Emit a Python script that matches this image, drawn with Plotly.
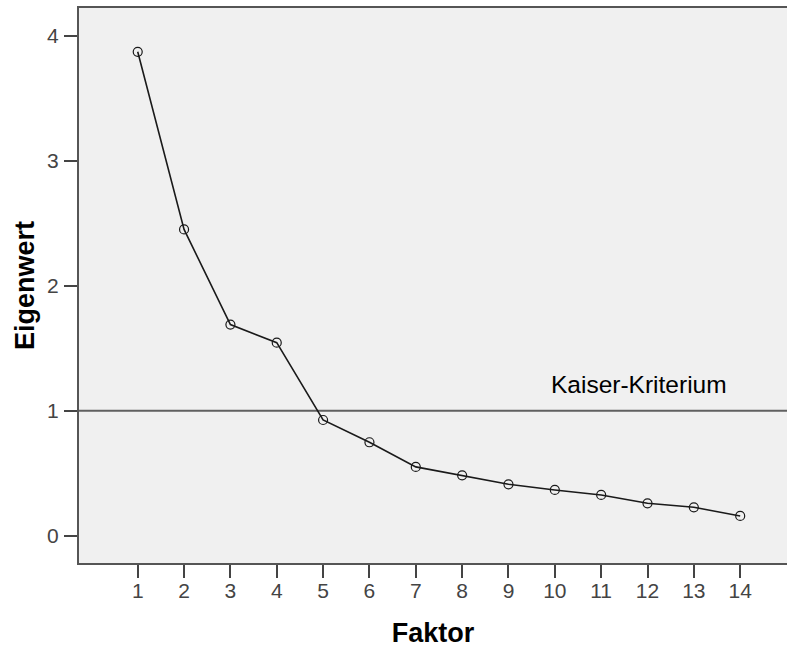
import plotly.graph_objects as go

faktor = list(range(1, 15))
eigenwert = [3.87, 2.45, 1.69, 1.545, 0.927, 0.749, 0.552, 0.485, 0.413, 0.368, 0.328, 0.261, 0.229, 0.16]
kaiser_value = 1.0
kaiser_label = "Kaiser-Kriterium"
x_ticks = list(range(1, 15))
y_ticks = [0, 1, 2, 3, 4]

fig = go.Figure()
fig.add_trace(go.Scatter(
    x=faktor, y=eigenwert, mode="lines+markers",
    line=dict(color="#1a1a1a", width=1.6),
    marker=dict(symbol="circle-open", size=9, color="#1a1a1a", line=dict(width=1.2)),
    showlegend=False, hoverinfo="skip",
))

fig.add_shape(type="line", xref="paper", yref="y", x0=0, x1=1, y0=kaiser_value, y1=kaiser_value,
              line=dict(color="#606060", width=2), layer="below")

fig.add_annotation(x=9.88, y=1.21, xref="x", yref="y", text=kaiser_label, showarrow=False,
                   xanchor="left", yanchor="middle",
                   font=dict(family="Liberation Sans, Arial, sans-serif", size=24.5, color="#000000"))

axis_font = dict(family="Liberation Sans, Arial, sans-serif", size=21, color="#444444")
title_font = dict(family="Liberation Sans, Arial, sans-serif", size=27, color="#000000")

fig.update_layout(
    width=787, height=648,
    margin=dict(l=79, r=0, t=8, b=85),
    paper_bgcolor="white", plot_bgcolor="#F0F0F0",
    xaxis=dict(
        range=[-0.267, 15.01], tickvals=x_ticks, ticktext=[str(v) for v in x_ticks],
        showgrid=False, zeroline=False, showline=True, linecolor="#555555", linewidth=2,
        mirror=True, ticks="outside", ticklen=13, tickwidth=1.5, tickcolor="#444444",
        tickfont=axis_font, ticklabelstandoff=-5,
        title=dict(text="<b>Faktor</b>", font=title_font, standoff=22),
    ),
    yaxis=dict(
        range=[-0.216, 4.22], tickvals=y_ticks, ticktext=[str(v) for v in y_ticks],
        showgrid=False, zeroline=False, showline=True, linecolor="#555555", linewidth=2,
        ticks="outside", ticklen=13, tickwidth=1.5, tickcolor="#444444",
        tickfont=axis_font, ticklabelstandoff=1,
        title=dict(text="<b>Eigenwert</b>", font=title_font, standoff=5),
    ),
)

fig.write_html("out.html")
